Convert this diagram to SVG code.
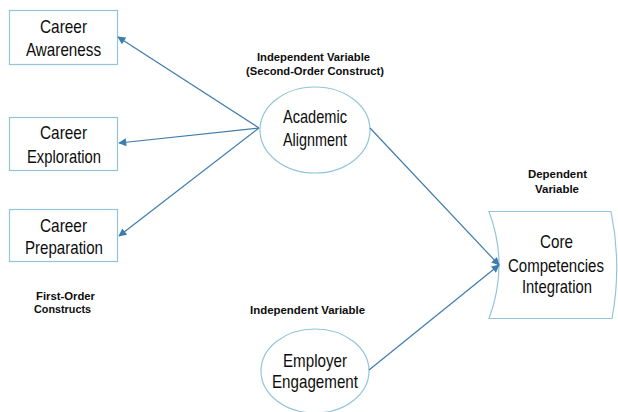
<svg xmlns="http://www.w3.org/2000/svg" width="618" height="412" viewBox="0 0 618 412">
  <style>
    .box { fill: #ffffff; stroke: #92c5da; stroke-width: 1.2; }
    .edge { fill: none; stroke: #3f7cac; stroke-width: 1.2; marker-end: url(#arrow); }
    .name { font-family: "Liberation Sans", Arial, sans-serif; font-size: 19px; fill: #0d0d0d; }
    .note { font-family: "Liberation Sans", Arial, sans-serif; font-size: 11px; font-weight: bold; fill: #0d0d0d; }
  </style>
  <defs>
    <marker id="arrow" markerUnits="userSpaceOnUse" viewBox="0 0 10 10" refX="9" refY="5" markerWidth="9" markerHeight="8" orient="auto">
      <path d="M0,0 L10,5 L0,10 Z" fill="#3f7cac"/>
    </marker>
  </defs>
  <rect width="618" height="412" fill="#ffffff"/>

  <!-- first-order constructs -->
  <g id="career-awareness">
    <rect class="box" x="9.5" y="10.5" width="108" height="54"/>
    <text class="name" x="40" y="33" textLength="47" lengthAdjust="spacingAndGlyphs">Career</text>
    <text class="name" x="26" y="56" textLength="75" lengthAdjust="spacingAndGlyphs">Awareness</text>
  </g>
  <g id="career-exploration">
    <rect class="box" x="9.5" y="117.5" width="108" height="53"/>
    <text class="name" x="40" y="139" textLength="47" lengthAdjust="spacingAndGlyphs">Career</text>
    <text class="name" x="27" y="163" textLength="74" lengthAdjust="spacingAndGlyphs">Exploration</text>
  </g>
  <g id="career-preparation">
    <rect class="box" x="9.5" y="209.5" width="108" height="52"/>
    <text class="name" x="40" y="232" textLength="47" lengthAdjust="spacingAndGlyphs">Career</text>
    <text class="name" x="25" y="254" textLength="78" lengthAdjust="spacingAndGlyphs">Preparation</text>
  </g>
  <g id="first-order-label">
    <text class="note" x="36" y="300" textLength="59" lengthAdjust="spacingAndGlyphs">First-Order</text>
    <text class="note" x="34" y="313" textLength="57" lengthAdjust="spacingAndGlyphs">Constructs</text>
  </g>

  <!-- second-order construct -->
  <g id="academic-alignment">
    <text class="note" x="257" y="61" textLength="113" lengthAdjust="spacingAndGlyphs">Independent Variable</text>
    <text class="note" x="246" y="75" textLength="138" lengthAdjust="spacingAndGlyphs">(Second-Order Construct)</text>
    <ellipse class="box" cx="315" cy="130" rx="55" ry="43"/>
    <text class="name" x="283" y="123" textLength="64" lengthAdjust="spacingAndGlyphs">Academic</text>
    <text class="name" x="283" y="146" textLength="64" lengthAdjust="spacingAndGlyphs">Alignment</text>
  </g>

  <!-- independent variable -->
  <g id="employer-engagement">
    <text class="note" x="250" y="314" textLength="115" lengthAdjust="spacingAndGlyphs">Independent Variable</text>
    <ellipse class="box" cx="315" cy="371" rx="54" ry="42"/>
    <text class="name" x="283" y="367" textLength="64" lengthAdjust="spacingAndGlyphs">Employer</text>
    <text class="name" x="272" y="388" textLength="86" lengthAdjust="spacingAndGlyphs">Engagement</text>
  </g>

  <!-- dependent variable -->
  <g id="core-competencies">
    <text class="note" x="528" y="178" textLength="59" lengthAdjust="spacingAndGlyphs">Dependent</text>
    <text class="note" x="535" y="193" textLength="44" lengthAdjust="spacingAndGlyphs">Variable</text>
    <path class="box" d="M489,211.5 L611,211.5 Q622,265 612,318.5 L489,318.5 Q509,265 489,211.5 Z"/>
    <text class="name" x="540" y="248" textLength="33" lengthAdjust="spacingAndGlyphs">Core</text>
    <text class="name" transform="translate(508,272) scale(0.79,1)" x="0" y="0">Competencies</text>
    <text class="name" x="522" y="293" textLength="70" lengthAdjust="spacingAndGlyphs">Integration</text>
  </g>

  <!-- connectors -->
  <g id="connectors">
    <line class="edge" x1="259" y1="128" x2="118" y2="37"/>
    <line class="edge" x1="259" y1="128" x2="119" y2="143"/>
    <line class="edge" x1="259" y1="128" x2="119" y2="236"/>
    <line class="edge" x1="370" y1="128" x2="499" y2="265"/>
    <line class="edge" x1="369" y1="370" x2="499" y2="265"/>
  </g>
</svg>
